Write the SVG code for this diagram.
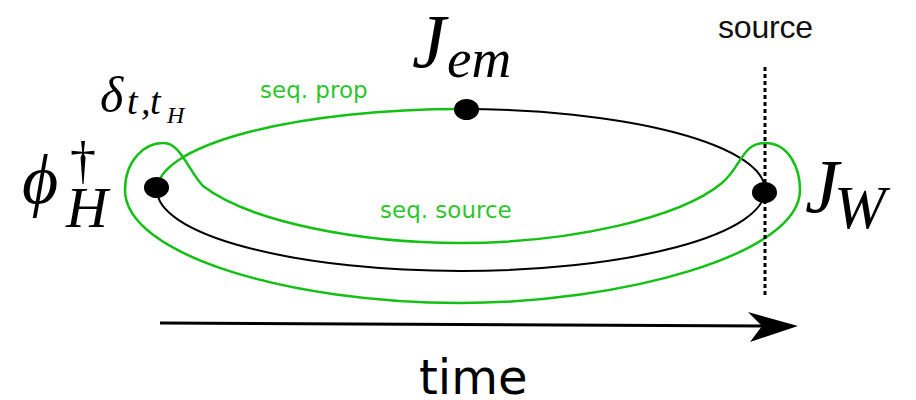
<svg xmlns="http://www.w3.org/2000/svg" width="916" height="400" viewBox="0 0 916 400">
<style>
.blk{fill:none;stroke:#000;stroke-width:2}
.grn{fill:none;stroke:#14c014;stroke-width:2.5}
.dot{fill:#000}
.gtxt{font-family:"DejaVu Sans",sans-serif;fill:#2cc62c}
.math{font-family:"Liberation Serif","DejaVu Serif",serif;font-style:italic;fill:#000}
</style>
<rect width="916" height="400" fill="#fff"/>
<g id="connectors">
<path class="blk" d="M461,109 A304 81 0 1 1 157,190"/>
<path class="grn" d="M157,190 A304 81 0 0 1 461,109"/>
<path class="grn" d="M163,143 C180,142 188,170 203,186 C250,222 360,243 460,243 C570,243 680,218 722,183 C742,166 742,143 765,143 C790,143 800,170 800,190 C800,255 620,303 460,303 C290,303 125,255 125,190 C125,160 145,143 163,143 Z"/>
<line x1="765" y1="67" x2="765" y2="298" stroke="#000" stroke-width="3" stroke-dasharray="4 3"/>
<line x1="160" y1="323" x2="765" y2="326" stroke="#000" stroke-width="3"/>
<path d="M748,312 L798,326 L750,342 L762,326 Z" fill="#000"/>
</g>
<g id="node-phiH">
<ellipse class="dot" cx="156.5" cy="187.5" rx="12.5" ry="10.5"/>
<text class="math" x="22" y="203" font-size="70">ϕ</text>
<text x="70" y="178" font-size="52" font-family="Liberation Serif,DejaVu Serif,serif">†</text>
<text class="math" x="66" y="227" font-size="58">H</text>
</g>
<g id="node-delta">
<text class="math" x="100" y="112" font-size="50">δ</text>
<text class="math" x="127" y="114" font-size="38">t</text>
<text class="math" x="141" y="114" font-size="38">,</text>
<text class="math" x="150" y="114" font-size="38">t</text>
<text class="math" x="167" y="123" font-size="24">H</text>
</g>
<g id="node-Jem">
<ellipse class="dot" cx="466.5" cy="109.5" rx="12.5" ry="10.5"/>
<text class="math" x="412" y="67" font-size="76">J</text>
<text class="math" x="447" y="77" font-size="55">em</text>
</g>
<g id="node-JW">
<ellipse class="dot" cx="764.5" cy="192.5" rx="12.5" ry="10.5"/>
<text class="math" x="805" y="212" font-size="76">J</text>
<text class="math" x="834" y="228" font-size="62">W</text>
</g>
<text class="gtxt" x="260" y="98" font-size="23">seq. prop</text>
<text class="gtxt" x="380" y="218" font-size="23">seq. source</text>
<text x="718" y="38" font-size="32" textLength="95" font-family="Liberation Sans,Arial,sans-serif" fill="#111">source</text>
<text x="419" y="394" font-size="48" font-family="DejaVu Sans,sans-serif" fill="#000">time</text>
</svg>
